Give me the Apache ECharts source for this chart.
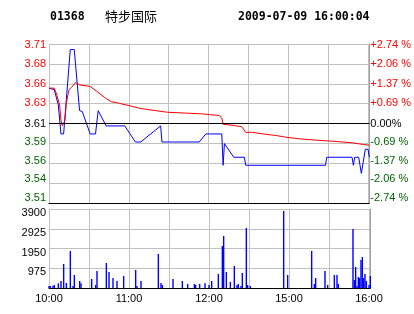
<!DOCTYPE html>
<html><head><meta charset="utf-8">
<script src="https://cdn.jsdelivr.net/npm/echarts@6/dist/echarts.min.js"></script>
<style>html,body{margin:0;padding:0;background:#fff}#c{width:414px;height:314px}</style>
</head><body><div id="c"></div>
<script>
// ---- data (minutes since 10:00 in trading time; HK session 10:00-12:30, 14:30-16:00) ----
const BASE = 3.61; // previous close
const priceMin = [0,4,7,9,11,16,19,23,25,31,35,37,43,57,65,69,84,85,113,118,130,131,132,133,139,147,148,208,209,228,229,230,233,234,235,238,240,241];
const priceVal = [3.654,3.652,3.633,3.597,3.597,3.702,3.702,3.626,3.625,3.597,3.597,3.626,3.607,3.607,3.587,3.587,3.607,3.587,3.587,3.597,3.597,3.558,3.585,3.587,3.568,3.568,3.558,3.558,3.568,3.568,3.558,3.568,3.568,3.558,3.548,3.578,3.578,3.568];
const avgMin = [0,4,6,8,9,10,11,12,13,15,17,18,20,23,31,36,43,47,51,53,61,68,76,89,102,115,121,128,130,131,137,145,148,153,161,171,178,188,203,213,228,236,241];
const avgVal = [3.654,3.654,3.645,3.633,3.614,3.607,3.607,3.614,3.635,3.652,3.655,3.656,3.661,3.658,3.656,3.650,3.641,3.637,3.636,3.635,3.632,3.629,3.627,3.624,3.623,3.622,3.621,3.620,3.617,3.609,3.608,3.606,3.599,3.599,3.597,3.595,3.593,3.591,3.589,3.588,3.586,3.584,3.583];
const volMin = [0,1,3,4,7,9,11,13,16,18,19,23,24,32,35,36,43,45,48,51,56,65,66,69,82,84,85,93,100,104,109,110,113,117,120,122,127,130,131,133,136,139,141,142,144,145,148,149,151,176,179,197,199,200,207,209,214,216,217,228,229,230,231,232,233,234,235,236,237,238,240,241];
const volVal = [99,99,115,148,230,346,1185,247,1828,99,642,346,230,445,148,840,1235,790,494,346,593,889,99,346,1680,247,148,445,346,198,198,148,198,240,148,346,692,2075,2569,790,296,1087,148,198,99,741,2964,148,99,3804,642,1828,198,494,840,148,642,642,198,2915,395,1037,99,543,494,1383,1531,494,692,346,148,593];
const timeLabelPos = [0,60,120,180,240];
const timeLabels = ['10:00','11:00','12:00','15:00','16:00'];
const priceLabels = ['3.51','3.54','3.56','3.59','3.61','3.63','3.66','3.68','3.71']; // bottom -> top
const pctLabels = ['-2.74 %','-2.06 %','-1.37 %','-0.69 %','0.00%','+0.69 %','+1.37 %','+2.06 %','+2.74 %'];
const volLabels = ['', '975', '1950', '2925', '3900'];
const PCT_STEP = 0.685;
const VOL_MAX = 3900, VOL_STEP = 975;

// ---- chart ----
const toPct = p => (p / BASE - 1) * 100;
const FONT = 'Liberation Sans';
const GRID = '#c0c0c0';
const RED = '#ff0000', GREEN = '#006400', BLUE = '#0000ff';
// label vertical nudges (px, negative = up), bottom -> top
const nudge = [-5,-4,-2.5,-1,0,-1,0,0,0.5];
function richFor(colors) {
  const r = {};
  for (let i = 0; i < 9; i++) {
    const d = nudge[i];
    r['l' + i] = {
      color: colors[i], fontSize: 11, fontFamily: FONT,
      padding: d < 0 ? [0, 0, -2 * d, 0] : [2 * d, 0, 0, 0]
    };
  }
  return r;
}
const leftColors = [GREEN,GREEN,GREEN,GREEN,'#000',RED,RED,RED,RED];
const idxOf = v => Math.round(v / PCT_STEP) + 4;

const chart = echarts.init(document.getElementById('c'), null, {renderer: 'canvas'});
const W = 241 * 4 / 3;
chart.setOption({
  animation: false,
  backgroundColor: '#fff',
  grid: [
    {left: 49, top: 44, width: W, height: 159},
    {left: 49, top: 209, width: W, height: 79}
  ],
  xAxis: [0, 1].map(g => ({
    gridIndex: g, type: 'value', min: 0, max: 241, interval: 30,
    axisLine: {show: true, onZero: false, lineStyle: {color: '#000', width: 1}},
    axisTick: {show: false},
    splitLine: {show: true, lineStyle: {color: GRID, width: 1}},
    axisLabel: g === 0 ? {show: false} : {
      show: true, margin: 5, color: '#000', fontSize: 11, fontFamily: FONT,
      formatter: v => { const i = timeLabelPos.indexOf(v); return i >= 0 ? timeLabels[i] : ''; }
    }
  })),
  yAxis: [
    {
      gridIndex: 0, type: 'value', position: 'left', min: -4 * PCT_STEP, max: 4 * PCT_STEP, interval: PCT_STEP,
      axisLine: {show: false}, axisTick: {show: false},
      splitLine: {show: true, lineStyle: {color: GRID, width: 1}},
      axisLabel: {margin: 3, formatter: v => { const i = idxOf(v); return '{l' + i + '|' + priceLabels[i] + '}'; }, rich: richFor(leftColors)}
    },
    {
      gridIndex: 0, type: 'value', position: 'right', min: -4 * PCT_STEP, max: 4 * PCT_STEP, interval: PCT_STEP,
      axisLine: {show: true, lineStyle: {color: '#a0a0a0', width: 1}}, axisTick: {show: false},
      splitLine: {show: false},
      axisLabel: {margin: 1, formatter: v => { const i = idxOf(v); return '{l' + i + '|' + pctLabels[i] + '}'; }, rich: richFor(leftColors)}
    },
    {
      gridIndex: 1, type: 'value', position: 'left', min: 0, max: VOL_MAX, interval: VOL_STEP,
      axisLine: {show: false}, axisTick: {show: false},
      splitLine: {show: true, lineStyle: {color: GRID, width: 1}},
      axisLabel: {margin: 3,
        formatter: v => { const s = volLabels[Math.round(v / VOL_STEP)]; return s ? '{v|' + s + '}' : ''; },
        rich: {v: {color: '#000', fontSize: 11, fontFamily: FONT, padding: [8, 0, 0, 0]}}}
    },
    {
      gridIndex: 1, type: 'value', position: 'right', min: 0, max: VOL_MAX, interval: VOL_STEP,
      axisLine: {show: true, lineStyle: {color: '#a0a0a0', width: 1}}, axisTick: {show: false},
      splitLine: {show: false}, axisLabel: {show: false}
    }
  ],
  series: [
    {
      type: 'line', xAxisIndex: 0, yAxisIndex: 0, z: 3,
      data: priceMin.map((m, i) => [m, toPct(priceVal[i])]),
      showSymbol: false, symbol: 'none', lineStyle: {color: BLUE, width: 1}
    },
    {
      type: 'line', xAxisIndex: 0, yAxisIndex: 0, z: 4,
      data: avgMin.map((m, i) => [m, toPct(avgVal[i])]),
      showSymbol: false, symbol: 'none', lineStyle: {color: RED, width: 1},
      markLine: {silent: true, symbol: 'none', label: {show: false},
        lineStyle: {color: '#000', width: 1, type: 'solid'}, data: [{yAxis: 0}]}
    },
    {
      type: 'bar', xAxisIndex: 1, yAxisIndex: 2, barWidth: 1.4,
      data: volMin.map((m, i) => [m, volVal[i]]),
      itemStyle: {color: BLUE}
    }
  ],
  graphic: [
    {type: 'text', style: {text: '01368', x: 50, y: 17, font: 'bold 11.5px "DejaVu Sans Mono"', fill: '#000', verticalAlign: 'middle'}},
    {type: 'text', style: {text: '特步国际', x: 105, y: 16, font: '13px "Noto Sans CJK SC"', fill: '#000', verticalAlign: 'middle'}},
    {type: 'text', style: {text: '2009-07-09 16:00:04', x: 238, y: 17, font: 'bold 11.5px "DejaVu Sans Mono"', fill: '#000', verticalAlign: 'middle'}}
  ]
});
</script></body></html>
